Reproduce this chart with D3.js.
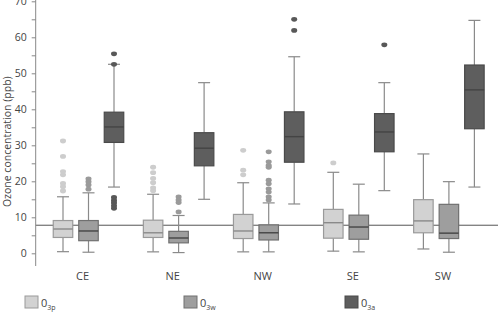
<!DOCTYPE html>
<html lang="en">
<head>
    <meta charset="utf-8">
    <title>Ozone boxplots</title>
    <style>
        body { margin: 0; background: #fff; }
        svg { display: block; font-family: "Open Sans", sans-serif; }
    </style>
</head>
<body>
<script src="https://cdn.jsdelivr.net/npm/d3@7/dist/d3.min.js"></script>
<script>
    // Regions and series
    const regions = ["CE", "NE", "NW", "SE", "SW"];
    const series = ["O3p", "O3w", "O3a"];
    const seriesSub = ["3p", "3w", "3a"];
    const yTicks = [0, 10, 20, 30, 40, 50, 60, 70];
    const refLine = 7.8;

    // box stats per series, one entry per region: [whiskerLow, q1, median, q3, whiskerHigh]
    const o3pStats = [
        [0.45, 4.4, 6.75, 9.1, 15.7],
        [0.4, 4.4, 5.7, 9.2, 16.4],
        [0.4, 4.1, 6.2, 10.8, 19.6],
        [0.6, 4.2, 8.5, 12.2, 22.5],
        [1.2, 5.7, 9.0, 14.9, 27.6]
    ];
    const o3wStats = [
        [0.3, 3.5, 6.2, 9.1, 16.8],
        [0.2, 2.9, 4.25, 6.1, 10.5],
        [0.4, 3.7, 5.7, 7.9, 14.0],
        [0.4, 3.9, 7.3, 10.6, 19.2],
        [0.3, 4.1, 5.6, 13.6, 19.9]
    ];
    const o3aStats = [
        [18.4, 30.8, 35.1, 39.2, 52.5],
        [15.0, 24.3, 29.2, 33.5, 47.4],
        [13.7, 25.3, 32.4, 39.3, 54.6],
        [17.4, 28.2, 33.7, 38.8, 47.4],
        [18.4, 34.6, 45.4, 52.3, 64.7]
    ];

    // outliers
    const o3pOut = [
        [31.2, 26.9, 22.7, 21.8, 19.4, 18.5, 17.3],
        [23.9, 22.4, 20.8, 19.6, 18.2, 17.4],
        [28.6, 23.1, 21.8],
        [25.1],
        []
    ];
    const o3wOut = [
        [20.7, 19.9, 19.0, 17.8],
        [15.7, 14.8, 14.1, 11.5],
        [28.2, 25.4, 24.4, 23.9, 20.3, 19.3, 17.9, 17.0, 15.7, 14.8],
        [],
        []
    ];
    const o3aOut = [
        [55.4, 52.5, 15.5, 14.7, 14.0, 13.2, 12.5],
        [],
        [65.0, 61.9],
        [57.9],
        []
    ];

    const fills = ["#d2d2d2", "#9e9e9e", "#5e5e5e"];
    const strokes = ["#9a9a9a", "#707070", "#4a4a4a"];
    const dotColors = ["#cdcdcd", "#9a9a9a", "#585858"];

    const stats = [o3pStats, o3wStats, o3aStats];
    const outs = [o3pOut, o3wOut, o3aOut];

    const width = 498, height = 321;
    const svg = d3.select("body").append("svg")
        .attr("width", width)
        .attr("height", height);

    const y = d3.scaleLinear().domain([0, 70]).range([253.3, 1.3]);
    const x = d3.scaleBand().domain(regions).range([43.5, 494]);
    const xSub = d3.scaleBand().domain(series).range([6.75, 83.25]);
    const boxW = 19.5;
    const capW = 12;
    const axisX = 35.7;

    // reference line
    svg.append("line")
        .attr("x1", axisX).attr("x2", width)
        .attr("y1", y(refLine)).attr("y2", y(refLine))
        .attr("stroke", "#555").attr("stroke-width", 1);

    // y axis
    const yAxis = d3.axisLeft(y)
        .tickValues(d3.range(0, 71, 5))
        .tickSize(4)
        .tickFormat(d => d % 10 === 0 ? d : "");
    const gy = svg.append("g")
        .attr("transform", `translate(${axisX},0)`)
        .call(yAxis);
    gy.select(".domain").remove();
    gy.selectAll(".tick line").attr("stroke", "#888");
    gy.selectAll(".tick text")
        .attr("fill", "#444")
        .attr("font-size", 10.5)
        .attr("font-family", "Open Sans, sans-serif")
        .attr("x", -9);
    gy.append("line")
        .attr("x1", 0).attr("x2", 0)
        .attr("y1", 0).attr("y2", 266)
        .attr("stroke", "#888");

    svg.append("text")
        .attr("transform", `translate(11,${y(31)}) rotate(-90)`)
        .attr("text-anchor", "middle")
        .attr("font-size", 10.5)
        .attr("fill", "#444")
        .text("Ozone concentration (ppb)");

    // category labels
    svg.append("g").selectAll("text")
        .data(regions)
        .join("text")
        .attr("x", d => x(d) + x.bandwidth() / 2 - 6)
        .attr("y", 279.5)
        .attr("text-anchor", "middle")
        .attr("font-size", 11)
        .attr("fill", "#444")
        .text(d => d);

    // boxes
    series.forEach((s, si) => {
        const g = svg.append("g");
        regions.forEach((r, ri) => {
            const [lo, q1, med, q3, hi] = stats[si][ri];
            const cx = x(r) + xSub(s) + xSub.bandwidth() / 2;
            // whiskers
            g.append("line")
                .attr("x1", cx).attr("x2", cx)
                .attr("y1", y(hi)).attr("y2", y(q3))
                .attr("stroke", "#8a8a8a").attr("stroke-width", 1.2);
            g.append("line")
                .attr("x1", cx).attr("x2", cx)
                .attr("y1", y(q1)).attr("y2", y(lo))
                .attr("stroke", "#8a8a8a").attr("stroke-width", 1.2);
            [lo, hi].forEach(v => {
                g.append("line")
                    .attr("x1", cx - capW / 2).attr("x2", cx + capW / 2)
                    .attr("y1", y(v)).attr("y2", y(v))
                    .attr("stroke", "#8a8a8a").attr("stroke-width", 1.2);
            });
            g.append("rect")
                .attr("x", cx - boxW / 2)
                .attr("y", y(q3))
                .attr("width", boxW)
                .attr("height", y(q1) - y(q3))
                .attr("fill", fills[si])
                .attr("stroke", strokes[si])
                .attr("stroke-width", 1.2);
            g.append("line")
                .attr("x1", cx - boxW / 2).attr("x2", cx + boxW / 2)
                .attr("y1", y(med)).attr("y2", y(med))
                .attr("stroke", si === 0 ? "#8a8a8a" : "#444")
                .attr("stroke-width", 1.4);
            g.selectAll("ellipse.o" + ri)
                .data(outs[si][ri])
                .join("ellipse")
                .attr("cx", cx)
                .attr("cy", d => y(d))
                .attr("rx", 3)
                .attr("ry", 2.4)
                .attr("fill", dotColors[si]);
        });
    });

    // legend
    const legX = [25, 184, 345];
    const leg = svg.append("g").selectAll("g")
        .data(series)
        .join("g")
        .attr("transform", (d, i) => `translate(${legX[i]},296)`);
    leg.append("rect")
        .attr("width", 13).attr("height", 12)
        .attr("fill", (d, i) => fills[i])
        .attr("stroke", (d, i) => strokes[i]);
    const lt = leg.append("text")
        .attr("x", 16).attr("y", 10.5)
        .attr("font-size", 11)
        .attr("fill", "#444");
    lt.append("tspan").text("0");
    lt.append("tspan")
        .attr("dy", 3)
        .attr("font-size", 7)
        .text((d, i) => seriesSub[i]);
</script>
</body>
</html>
